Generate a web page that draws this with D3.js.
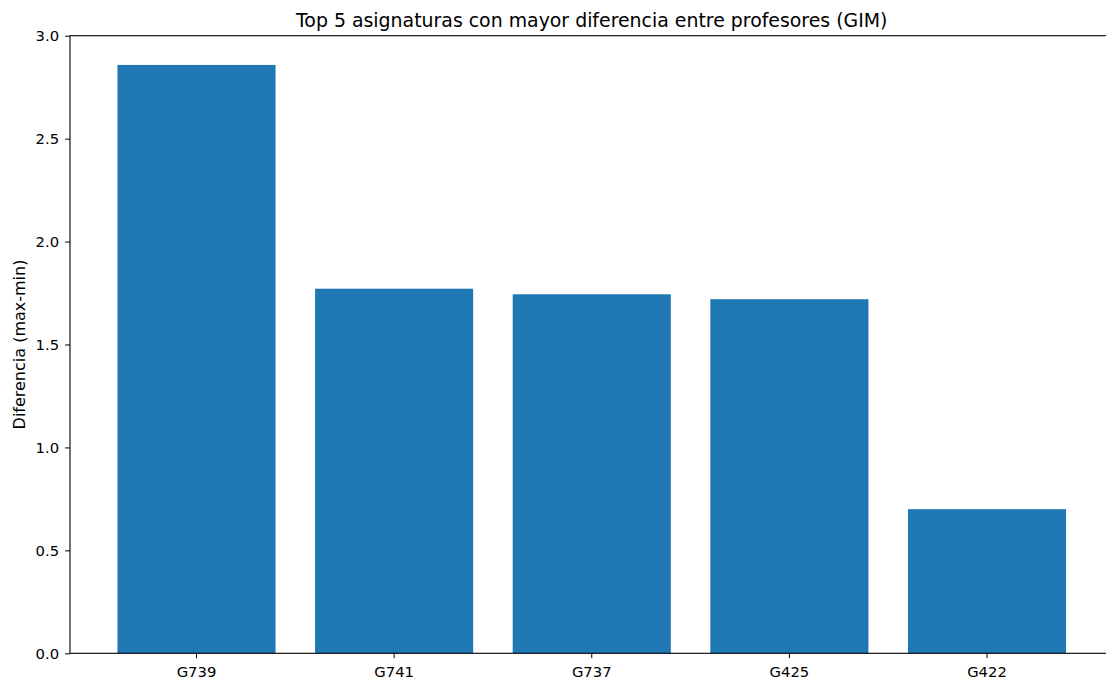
<script src="https://cdn.jsdelivr.net/npm/d3@7"></script>
<style>
  body { margin: 0; background: #fff; }
  text { font-family: "DejaVu Sans", sans-serif; fill: #000; }
</style>
<svg width="1106" height="680"></svg>
<script>
const asignaturas = ["G739", "G741", "G737", "G425", "G422"];
const diferencias = [2.858, 1.771, 1.744, 1.720, 0.70];
const yTicks = [0, 0.5, 1.0, 1.5, 2.0, 2.5, 3.0];

const svg = d3.select("svg");
const mLeft = 70, mRight = 1113.5, mTop = 35.7, mBottom = 653.3;

const x = d3.scaleBand()
    .domain(asignaturas)
    .range([mLeft, mRight])
    .paddingInner(0.2)
    .paddingOuter(0.24);
const y = d3.scaleLinear().domain([0, 3]).range([mBottom, mTop]);

svg.append("g")
  .selectAll("rect")
  .data(asignaturas)
  .join("rect")
    .attr("x", d => x(d))
    .attr("width", x.bandwidth())
    .attr("y", (d, i) => y(diferencias[i]))
    .attr("height", (d, i) => y(0) - y(diferencias[i]))
    .attr("fill", "#1f77b4");

// spines
svg.append("rect")
    .attr("x", mLeft).attr("y", mTop)
    .attr("width", mRight - mLeft).attr("height", mBottom - mTop)
    .attr("fill", "none").attr("stroke", "#000").attr("stroke-width", 1.1);

const yAxis = svg.append("g")
    .attr("transform", `translate(${mLeft},0)`)
    .call(d3.axisLeft(y).tickValues(yTicks).tickFormat(d3.format(".1f")).tickSize(4.9).tickPadding(6));
yAxis.select(".domain").remove();
yAxis.selectAll("text").style("font-size", "14.8px").style("font-family", "DejaVu Sans");

const xAxis = svg.append("g")
    .attr("transform", `translate(0,${mBottom})`)
    .call(d3.axisBottom(x).tickSize(4.9).tickPadding(8));
xAxis.select(".domain").remove();
xAxis.selectAll("text").style("font-size", "14.8px").style("font-family", "DejaVu Sans");

svg.append("text")
    .attr("x", (mLeft + mRight) / 2)
    .attr("y", 26.5)
    .attr("text-anchor", "middle")
    .style("font-size", "18.9px")
    .text("Top 5 asignaturas con mayor diferencia entre profesores (GIM)");

svg.append("text")
    .attr("transform", `translate(25,${(mTop + mBottom) / 2}) rotate(-90)`)
    .attr("text-anchor", "middle")
    .style("font-size", "16px")
    .text("Diferencia (max-min)");
</script>
